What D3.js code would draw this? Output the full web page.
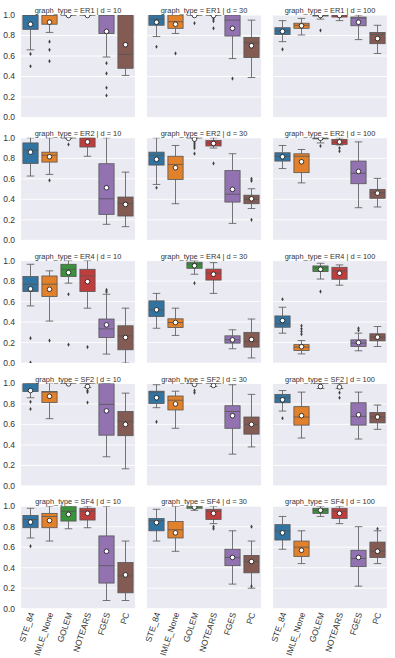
<!DOCTYPE html>
<html>
<head>
<meta charset="utf-8">
<script src="https://cdn.jsdelivr.net/npm/d3@7"></script>
<style>
  body { margin: 0; background: #fff; }
  svg { display: block; font-family: "Liberation Sans", Arial, sans-serif; }
</style>
</head>
<body>
<main></main>
<script>
// categories
const methods = ['STE_84', 'IMLE_None', 'GOLEM', 'NOTEARS', 'FGES', 'PC'];
const graphTypes = ['ER1', 'ER2', 'ER4', 'SF2', 'SF4'];
const dims = [10, 30, 100];
const yTicks = [0, 0.2, 0.4, 0.6, 0.8, 1.0];

// one box per method: [whisker low, q1, median, q3, whisker high, mean, outliers]
const ER1_10 = [
  [0.66, 0.86, 1.0, 1.0, 1.0, 0.91, [0.62, 0.50]],
  [0.83, 0.91, 1.0, 1.0, 1.0, 0.93, [0.74, 0.66, 0.55]],
  [1.0, 1.0, 1.0, 1.0, 1.0, 0.995, []],
  [1.0, 1.0, 1.0, 1.0, 1.0, 0.995, []],
  [0.59, 0.82, 1.0, 1.0, 1.0, 0.84, [0.53, 0.43, 0.29, 0.215]],
  [0.41, 0.48, 0.615, 1.0, 1.0, 0.71, []]
];
const ER1_30 = [
  [0.79, 0.90, 0.96, 1.0, 1.0, 0.93, [0.69]],
  [0.82, 0.87, 0.935, 1.0, 1.0, 0.91, [0.625]],
  [1.0, 1.0, 1.0, 1.0, 1.0, 0.995, [0.92]],
  [1.0, 1.0, 1.0, 1.0, 1.0, 0.995, [0.96, 0.94, 0.87]],
  [0.575, 0.795, 0.95, 1.0, 1.0, 0.87, [0.38]],
  [0.39, 0.585, 0.73, 0.78, 0.95, 0.70, []]
];
const ER1_100 = [
  [0.74, 0.81, 0.845, 0.876, 0.945, 0.84, [0.665]],
  [0.805, 0.87, 0.90, 0.92, 0.967, 0.895, []],
  [0.96, 0.99, 1.0, 1.0, 1.0, 0.995, [0.85]],
  [0.945, 0.98, 1.0, 1.0, 1.0, 0.995, []],
  [0.76, 0.895, 0.97, 0.98, 1.0, 0.93, []],
  [0.625, 0.72, 0.81, 0.83, 0.90, 0.77, []]
];
const ER2_10 = [
  [0.627, 0.75, 0.88, 0.95, 1.0, 0.86, []],
  [0.643, 0.763, 0.83, 0.86, 1.0, 0.815, [0.585]],
  [1.0, 1.0, 1.0, 1.0, 1.0, 0.995, [0.935]],
  [0.82, 0.91, 1.0, 1.0, 1.0, 0.96, []],
  [0.156, 0.253, 0.405, 0.747, 1.0, 0.513, []],
  [0.133, 0.237, 0.36, 0.422, 0.665, 0.35, []]
];
const ER2_30 = [
  [0.545, 0.734, 0.83, 0.86, 1.0, 0.79, [0.513]],
  [0.357, 0.594, 0.74, 0.82, 0.925, 0.708, []],
  [1.0, 1.0, 1.0, 1.0, 1.0, 0.987, [0.96, 0.94, 0.92, 0.90, 0.845]],
  [0.90, 0.92, 0.95, 0.975, 1.0, 0.945, [0.75]],
  [0.165, 0.373, 0.45, 0.68, 0.845, 0.497, []],
  [0.31, 0.357, 0.40, 0.44, 0.503, 0.405, [0.60, 0.58, 0.20]]
];
const ER2_100 = [
  [0.70, 0.773, 0.82, 0.854, 0.925, 0.815, []],
  [0.56, 0.66, 0.82, 0.844, 0.886, 0.766, []],
  [0.95, 0.99, 1.0, 1.0, 1.0, 0.995, [0.92]],
  [0.93, 0.935, 0.96, 0.984, 1.0, 0.96, [0.90, 0.87]],
  [0.318, 0.552, 0.653, 0.773, 0.96, 0.672, []],
  [0.325, 0.41, 0.464, 0.497, 0.604, 0.46, []]
];
const ER4_10 = [
  [0.558, 0.698, 0.77, 0.844, 0.964, 0.724, [0.243, 0.006]],
  [0.41, 0.65, 0.77, 0.85, 0.90, 0.72, [0.22]],
  [0.78, 0.844, 0.915, 0.964, 1.0, 0.883, [0.672, 0.18]],
  [0.536, 0.698, 0.85, 0.915, 1.0, 0.795, [0.156]],
  [0.088, 0.25, 0.334, 0.43, 0.672, 0.373, [0.714, 0.695]],
  [0.0, 0.13, 0.266, 0.364, 0.536, 0.25, []]
];
const ER4_30 = [
  [0.34, 0.455, 0.52, 0.607, 0.68, 0.52, []],
  [0.27, 0.347, 0.396, 0.432, 0.536, 0.396, []],
  [0.867, 0.925, 0.967, 0.984, 1.0, 0.95, [0.78]],
  [0.68, 0.81, 0.877, 0.917, 0.98, 0.867, []],
  [0.14, 0.195, 0.227, 0.266, 0.325, 0.227, []],
  [0.05, 0.156, 0.21, 0.30, 0.43, 0.23, []]
];
const ER4_100 = [
  [0.292, 0.35, 0.383, 0.46, 0.545, 0.415, [0.623]],
  [0.09, 0.123, 0.156, 0.18, 0.22, 0.16, [0.364, 0.334, 0.308, 0.282]],
  [0.82, 0.893, 0.93, 0.948, 0.974, 0.915, [0.698]],
  [0.76, 0.818, 0.90, 0.935, 0.958, 0.877, []],
  [0.12, 0.162, 0.195, 0.227, 0.292, 0.20, [0.34, 0.32]],
  [0.162, 0.217, 0.253, 0.286, 0.357, 0.253, []]
];
const SF2_10 = [
  [0.86, 0.92, 1.0, 1.0, 1.0, 0.93, [0.82, 0.75]],
  [0.656, 0.814, 0.915, 0.92, 1.0, 0.874, []],
  [1.0, 1.0, 1.0, 1.0, 1.0, 0.995, []],
  [0.96, 1.0, 1.0, 1.0, 1.0, 0.97, [0.93, 0.915, 0.814]],
  [0.284, 0.495, 0.795, 1.0, 1.0, 0.732, []],
  [0.167, 0.49, 0.63, 0.726, 0.905, 0.60, []]
];
const SF2_30 = [
  [0.763, 0.804, 0.915, 0.924, 0.987, 0.86, [0.625]],
  [0.562, 0.741, 0.836, 0.877, 0.924, 0.80, []],
  [1.0, 1.0, 1.0, 1.0, 1.0, 0.99, [0.93, 0.91]],
  [0.97, 1.0, 1.0, 1.0, 1.0, 0.98, []],
  [0.31, 0.562, 0.726, 0.782, 0.987, 0.685, []],
  [0.38, 0.505, 0.60, 0.672, 0.893, 0.60, []]
];
const SF2_100 = [
  [0.73, 0.811, 0.86, 0.893, 0.93, 0.84, [0.66]],
  [0.467, 0.593, 0.672, 0.773, 0.915, 0.685, []],
  [0.95, 1.0, 1.0, 1.0, 1.0, 0.97, []],
  [0.95, 1.0, 1.0, 1.0, 1.0, 0.965, [0.91, 0.86]],
  [0.457, 0.593, 0.678, 0.811, 0.915, 0.694, []],
  [0.552, 0.615, 0.672, 0.716, 0.789, 0.672, []]
];
const SF4_10 = [
  [0.69, 0.79, 0.87, 0.91, 0.98, 0.845, [0.61]],
  [0.66, 0.79, 0.90, 0.93, 1.0, 0.86, []],
  [0.78, 0.855, 0.95, 1.0, 1.0, 0.92, []],
  [0.79, 0.865, 0.95, 0.98, 1.0, 0.93, []],
  [0.08, 0.25, 0.42, 0.71, 1.0, 0.56, []],
  [0.08, 0.155, 0.32, 0.45, 0.66, 0.33, []]
];
const SF4_30 = [
  [0.66, 0.76, 0.86, 0.88, 0.97, 0.84, []],
  [0.56, 0.69, 0.77, 0.85, 1.0, 0.74, []],
  [0.96, 0.98, 1.0, 1.0, 1.0, 0.99, []],
  [0.83, 0.87, 0.95, 0.97, 1.0, 0.93, [0.80, 0.78]],
  [0.24, 0.42, 0.50, 0.58, 0.76, 0.50, []],
  [0.20, 0.35, 0.46, 0.52, 0.66, 0.46, [0.80, 0.22]]
];
const SF4_100 = [
  [0.58, 0.67, 0.76, 0.82, 0.90, 0.74, []],
  [0.44, 0.51, 0.60, 0.66, 0.76, 0.57, []],
  [0.90, 0.93, 0.96, 0.98, 1.0, 0.96, []],
  [0.83, 0.88, 0.95, 0.98, 1.0, 0.93, []],
  [0.22, 0.41, 0.49, 0.57, 0.80, 0.50, []],
  [0.44, 0.50, 0.56, 0.65, 0.76, 0.56, [0.78]]
];

const panelData = [
  [ER1_10, ER1_30, ER1_100],
  [ER2_10, ER2_30, ER2_100],
  [ER4_10, ER4_30, ER4_100],
  [SF2_10, SF2_30, SF2_100],
  [SF4_10, SF4_30, SF4_100]
];

// layout
const width = 395;
const height = 658;
const panelLeft = [21, 147, 273];
const panelWidth = 114;
const panelTop0 = 15;
const rowStep = 122.8;
const panelHeight = 102.5;

// seaborn-ish desaturated palette
const colors = ['#3274a1', '#e1812c', '#3a923a', '#c03d3e', '#9372b2', '#845b53'];
const lineGray = '#555555';
const textGray = '#333333';

const svg = d3.select('main')
  .append('svg')
  .attr('width', width)
  .attr('height', height);

const xScale = d3.scaleBand()
  .domain(methods)
  .range([0, panelWidth])
  .padding(0);

const yScale = d3.scaleLinear()
  .domain([0, 1])
  .range([panelHeight, 0]);

const boxW = xScale.bandwidth() * 0.8;
const capW = boxW * 0.5;
const diamond = d3.symbol().type(d3.symbolDiamond).size(5);

panelData.forEach((row, r) => {
  row.forEach((boxes, c) => {
    const g = svg.append('g')
      .attr('transform', `translate(${panelLeft[c]}, ${panelTop0 + r * rowStep})`);

    g.append('rect')
      .attr('width', panelWidth)
      .attr('height', panelHeight)
      .attr('fill', '#eaeaf2');

    // horizontal grid
    g.selectAll('line.grid')
      .data(yTicks)
      .enter()
      .append('line')
      .attr('class', 'grid')
      .attr('x1', 0)
      .attr('x2', panelWidth)
      .attr('y1', d => yScale(d))
      .attr('y2', d => yScale(d))
      .attr('stroke', '#fff')
      .attr('stroke-width', 0.9);

    const clipId = `clip-${r}-${c}`;
    g.append('clipPath')
      .attr('id', clipId)
      .append('rect')
      .attr('width', panelWidth)
      .attr('height', panelHeight);

    const plot = g.append('g').attr('clip-path', `url(#${clipId})`);

    boxes.forEach((b, i) => {
      const [lo, q1, med, q3, hi, mean, outliers] = b;
      const cx = xScale(methods[i]) + xScale.bandwidth() / 2;
      const bg = plot.append('g');

      // whiskers
      bg.append('line')
        .attr('x1', cx).attr('x2', cx)
        .attr('y1', yScale(q3)).attr('y2', yScale(hi))
        .attr('stroke', lineGray).attr('stroke-width', 0.8);
      bg.append('line')
        .attr('x1', cx).attr('x2', cx)
        .attr('y1', yScale(q1)).attr('y2', yScale(lo))
        .attr('stroke', lineGray).attr('stroke-width', 0.8);

      // caps
      [lo, hi].forEach(v => {
        bg.append('line')
          .attr('x1', cx - capW / 2).attr('x2', cx + capW / 2)
          .attr('y1', yScale(v)).attr('y2', yScale(v))
          .attr('stroke', lineGray).attr('stroke-width', 0.8);
      });

      // box
      bg.append('rect')
        .attr('x', cx - boxW / 2)
        .attr('y', yScale(q3))
        .attr('width', boxW)
        .attr('height', Math.max(0.01, yScale(q1) - yScale(q3)))
        .attr('fill', colors[i])
        .attr('stroke', lineGray)
        .attr('stroke-width', 0.8);

      // median
      bg.append('line')
        .attr('x1', cx - boxW / 2).attr('x2', cx + boxW / 2)
        .attr('y1', yScale(med)).attr('y2', yScale(med))
        .attr('stroke', lineGray).attr('stroke-width', 0.8);

      // outliers
      bg.selectAll('path.flier')
        .data(outliers)
        .enter()
        .append('path')
        .attr('class', 'flier')
        .attr('d', diamond)
        .attr('transform', d => `translate(${cx}, ${yScale(d)})`)
        .attr('fill', '#3f3f3f');

      // mean marker
      bg.append('circle')
        .attr('cx', cx)
        .attr('cy', yScale(mean))
        .attr('r', 2.3)
        .attr('fill', '#fff')
        .attr('stroke', '#000')
        .attr('stroke-width', 0.7);
    });

    // y tick labels on the first column only
    if (c === 0) {
      g.selectAll('text.ytick')
        .data(yTicks)
        .enter()
        .append('text')
        .attr('class', 'ytick')
        .attr('x', -6)
        .attr('y', d => yScale(d))
        .attr('dy', '0.35em')
        .attr('text-anchor', 'end')
        .attr('font-size', 8.5)
        .attr('fill', textGray)
        .text(d => d.toFixed(1));
    }

    // x tick labels on the bottom row only
    if (r === panelData.length - 1) {
      g.selectAll('text.xtick')
        .data(methods)
        .enter()
        .append('text')
        .attr('class', 'xtick')
        .attr('text-anchor', 'end')
        .attr('dy', '0.35em')
        .attr('font-size', 8.5)
        .attr('fill', textGray)
        .attr('transform', d => `translate(${xScale(d) + xScale.bandwidth() / 2 + 1}, ${panelHeight + 4})rotate(-72)`)
        .text(d => d);
    }

    g.append('text')
      .attr('x', panelWidth / 2)
      .attr('y', -1.8)
      .attr('text-anchor', 'middle')
      .attr('font-size', 7.4)
      .attr('fill', textGray)
      .text(`graph_type = ${graphTypes[r]} | d = ${dims[c]}`);
  });
});
</script>
</body>
</html>
